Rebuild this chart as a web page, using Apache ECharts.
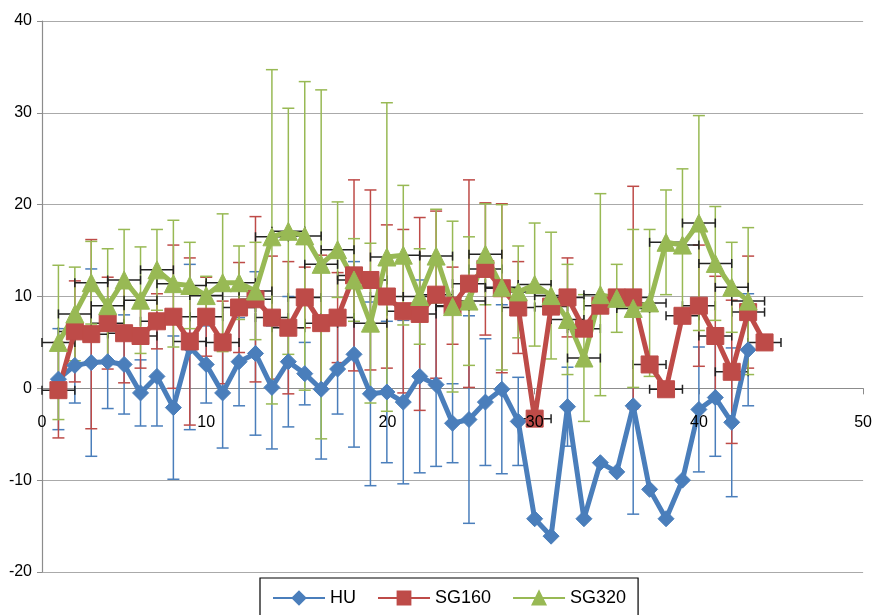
<!DOCTYPE html>
<html>
<head>
<meta charset="utf-8">
<script src="https://cdn.jsdelivr.net/npm/echarts@6/dist/echarts.min.js"></script>
<style>
html,body{margin:0;padding:0;background:#fff;}
#c{width:875px;height:615px;}
</style>
</head>
<body>
<div id="c"></div>
<script>
// ---- data ----
const xHU = [1,2,3,4,5,6,7,8,9,10,11,12,13,14,15,16,17,18,19,20,21,22,23,24,25,26,27,28,29,30,31,32,33,34,35,36,37,38,39,40,41,42,43];
const huValues = [1.0,2.5,2.8,2.9,2.6,-0.5,1.3,-2.1,4.5,2.6,-0.5,2.9,3.8,0.1,2.9,1.6,-0.1,2.1,3.7,-0.6,-0.4,-1.5,1.3,0.4,-3.8,-3.4,-1.5,-0.1,-3.6,-14.2,-16.1,-2.0,-14.2,-8.1,-9.1,-1.9,-11.0,-14.2,-10.0,-2.3,-1.0,-3.7,4.2];
const huErr = [5.5,4.1,10.2,5.1,5.4,3.6,5.4,7.8,9.0,4.2,6.0,4.8,8.9,6.7,7.1,3.4,7.6,4.9,10.1,10.0,7.7,8.9,10.5,8.9,4.3,11.3,6.9,9.2,4.8,0,0,4.3,0,0,0,11.8,0,0,0,6.8,6.4,8.1,6.1];

const xSG160 = [1,2,3,4,5,6,7,8,9,10,11,12,13,14,15,16,17,18,19,20,21,22,23,24,25,26,27,28,29,30,31,32,33,34,35,36,37,38,39,40,41,42,43,44];
const sg160Values = [-0.2,6.2,5.9,7.1,6.0,5.7,7.3,7.8,5.1,7.8,5.0,8.8,9.7,7.7,6.6,9.9,7.1,7.7,12.3,11.8,10.0,8.4,8.1,10.2,9.0,11.4,13.0,10.9,8.8,-3.3,8.9,9.9,6.5,9.0,9.9,9.9,2.6,-0.1,7.9,9.0,5.7,1.8,8.3,5.0];
const sg160Err = [5.2,5.5,10.3,5.0,5.4,3.5,3.0,7.8,9.1,4.3,4.5,4.9,9.0,6.7,7.2,3.3,7.4,4.9,10.4,9.8,7.8,8.9,10.5,9.1,4.2,11.3,7.2,9.2,5.0,0,0,4.3,0,0,0,12.1,0,0,0,6.6,6.5,7.8,6.1,0];

const xSG320 = [1,2,3,4,5,6,7,8,9,10,11,12,13,14,15,16,17,18,19,20,21,22,23,24,25,26,27,28,29,30,31,32,33,34,35,36,37,38,39,40,41,42,43];
const sg320Values = [5.0,8.1,11.5,9.0,11.8,9.6,12.9,11.4,11.2,10.1,11.5,11.5,10.6,16.5,17.1,16.6,13.5,15.1,11.8,7.1,14.3,14.5,10.0,14.4,8.9,9.5,14.6,11.0,10.5,11.3,10.1,7.5,3.3,10.2,9.8,8.7,9.3,15.9,15.6,18.0,13.6,11.0,9.5];
const sg320Err = [8.4,5.1,4.5,6.2,5.5,5.8,4.4,6.9,4.7,2.1,7.5,4.0,5.3,18.2,13.4,16.8,19.0,5.2,4.5,8.7,16.8,7.6,5.2,5.1,9.3,7.0,5.5,9.0,5.0,6.7,6.9,6.0,6.9,11.0,3.7,8.6,8.0,5.7,8.3,11.7,6.2,4.9,8.0];

const xErrHalf = 1; // horizontal error bars (±1) on SG160 and SG320

const seriesNames = ['HU','SG160','SG320'];
const xTicks = [0,10,20,30,40,50];
const yTicks = [-20,-10,0,10,20,30,40];

// ---- styling ----
const C_HU = '#4A7EBB', C_160 = '#BE4B48', C_320 = '#98B954';
const FONT = '"Liberation Sans", Arial, Helvetica, sans-serif';
const W = 875, H = 615, GL = 42, GR = 7, GT = 21, GB = 43;
const plotH = H - GT - GB;
const yMin = yTicks[0], yMax = yTicks[yTicks.length-1];
// shift x axis (line, ticks, labels) up to the y = 0 line
const xAxisOffset = -plotH * (0 - yMin) / (yMax - yMin);

function pts(xs, ys){ return xs.map((x,i)=>[x, ys[i]]); }
function errPts(xs, ys, es){ return xs.map((x,i)=>[x, ys[i], es[i]]); }
function xerrPts(xs, ys){ return xs.map((x,i)=>[x, ys[i], xErrHalf]); }

function vErr(color){
  return function(params, api){
    const x = api.value(0), y = api.value(1), e = api.value(2);
    if (!e) return null;
    const t = api.coord([x, y + e]), b = api.coord([x, y - e]);
    const cap = 6, st = {stroke: color, lineWidth: 1.5};
    return {type:'group', children:[
      {type:'line', shape:{x1:t[0],y1:t[1],x2:b[0],y2:b[1]}, style:st},
      {type:'line', shape:{x1:t[0]-cap,y1:t[1],x2:t[0]+cap,y2:t[1]}, style:st},
      {type:'line', shape:{x1:b[0]-cap,y1:b[1],x2:b[0]+cap,y2:b[1]}, style:st}
    ]};
  };
}
function hErr(color){
  return function(params, api){
    const x = api.value(0), y = api.value(1), e = api.value(2);
    if (!e) return null;
    const l = api.coord([x - e, y]), r = api.coord([x + e, y]);
    const cap = 4.5, st = {stroke: color, lineWidth: 1.5};
    return {type:'group', children:[
      {type:'line', shape:{x1:l[0],y1:l[1],x2:r[0],y2:r[1]}, style:st},
      {type:'line', shape:{x1:l[0],y1:l[1]-cap,x2:l[0],y2:l[1]+cap}, style:st},
      {type:'line', shape:{x1:r[0],y1:r[1]-cap,x2:r[0],y2:r[1]+cap}, style:st}
    ]};
  };
}
function lineSeries(name, data, color, symbol, size){
  return {
    name, type:'line', data, symbol, symbolSize:size,
    lineStyle:{color, width:5}, itemStyle:{color, borderColor:color, borderWidth:1},
    showAllSymbol:true, animation:false, emphasis:{disabled:true}
  };
}
function customSeries(data, render){
  return {type:'custom', renderItem:render, data, encode:{x:0,y:1}, animation:false, silent:true};
}

const xBase = {
  type:'value', min:xTicks[0], max:xTicks[xTicks.length-1], interval:10,
  offset:xAxisOffset, splitLine:{show:false}
};

const chart = echarts.init(document.getElementById('c'), null, {renderer:'canvas'});
chart.setOption({
  animation:false,
  backgroundColor:'#fff',
  textStyle:{fontFamily:FONT},
  grid:{left:GL, right:GR, top:GT, bottom:GB},
  xAxis:[
    Object.assign({}, xBase, {
      axisLine:{onZero:false, lineStyle:{color:'#8c8c8c', width:1.2}},
      axisTick:{show:true, length:6, lineStyle:{color:'#8c8c8c'}},
      axisLabel:{show:false}
    }),
    Object.assign({}, xBase, {
      position:'bottom', z:20,
      axisLine:{show:false, onZero:false},
      axisTick:{show:false},
      axisLabel:{
        color:'#000', fontSize:16, fontFamily:FONT, margin:26,
        formatter: v => (v === 20 ? '{s|20}' : String(v)),
        rich:{s:{fontSize:16, color:'#000', fontFamily:FONT, padding:[0,0,0,34]}}
      }
    })
  ],
  yAxis:{
    type:'value', min:yMin, max:yMax, interval:10,
    axisLine:{show:true, onZero:false, lineStyle:{color:'#8c8c8c', width:1.2}},
    axisTick:{show:true, length:5, lineStyle:{color:'#8c8c8c'}},
    axisLabel:{color:'#000', fontSize:16, fontFamily:FONT, margin:10},
    splitLine:{show:true, lineStyle:{color:'#aaaaaa', width:1.2}}
  },
  legend:{
    data:seriesNames,
    left:260, top:578,
    padding:[11,12,20,12],
    itemGap:21,
    itemWidth:52, itemHeight:16,
    borderColor:'#000', borderWidth:1.2,
    textStyle:{fontSize:18, color:'#000', fontFamily:FONT}
  },
  series:[
    customSeries(errPts(xHU, huValues, huErr), vErr(C_HU)),
    lineSeries(seriesNames[0], pts(xHU, huValues), C_HU, 'diamond', 16),
    customSeries(errPts(xSG160, sg160Values, sg160Err), vErr(C_160)),
    customSeries(xerrPts(xSG160, sg160Values), hErr('#222')),
    lineSeries(seriesNames[1], pts(xSG160, sg160Values), C_160, 'rect', 17),
    customSeries(errPts(xSG320, sg320Values, sg320Err), vErr(C_320)),
    customSeries(xerrPts(xSG320, sg320Values), hErr('#222')),
    lineSeries(seriesNames[2], pts(xSG320, sg320Values), C_320, 'triangle', 18)
  ]
});
</script>
</body>
</html>
